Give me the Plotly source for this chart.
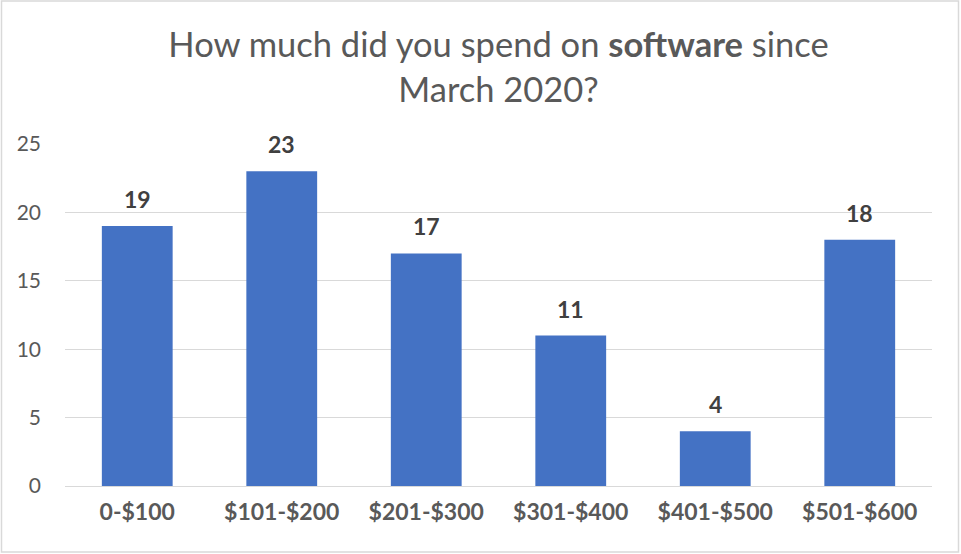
import plotly.graph_objects as go

categories = ["0-$100", "$101-$200", "$201-$300", "$301-$400", "$401-$500", "$501-$600"]
values = [19, 23, 17, 11, 4, 18]
y_ticks = [0, 5, 10, 15, 20, 25]

W, H = 961, 554
L, R, T, B = 65, 29, 144, 68
FONT = "Lato, 'Open Sans', sans-serif"

fig = go.Figure(go.Bar(
    x=categories, y=values,
    marker=dict(color="#4472C4", line=dict(width=0)),
    width=0.49,
    hoverinfo="x+y",
))

for c, v in zip(categories, values):
    fig.add_annotation(
        x=c, y=v, text=str(v), showarrow=False,
        yanchor="bottom", yshift=11,
        font=dict(family=FONT, size=23, color="#404040", weight="bold"),
    )

pw, ph = W - L - R, H - T - B
x0 = (1.5 - L) / pw
x1 = (W - 2.5 - L) / pw
y0 = -(H - 2.0 - T - ph) / ph
y1 = 1 + (T - 1.0) / ph

fig.update_layout(
    width=W, height=H,
    margin=dict(l=L, r=R, t=T, b=B, autoexpand=False),
    paper_bgcolor="white", plot_bgcolor="white",
    title=dict(
        text="How much did you spend on <b>software</b> since<br>March 2020?",
        x=0.5, xanchor="center", xref="paper",
        y=1 - 57 / H, yanchor="middle", yref="container",
        font=dict(family=FONT, size=34.5, color="#595959"),
    ),
    showlegend=False,
    xaxis=dict(
        showgrid=False, showline=False, ticks="",
        tickfont=dict(family=FONT, size=23, color="#595959", weight="bold"),
        ticklabelstandoff=10,
    ),
    yaxis=dict(
        range=[0, 25], tickvals=y_ticks,
        showgrid=True, gridcolor="#D9D9D9", gridwidth=1.3,
        zeroline=True, zerolinecolor="#D9D9D9", zerolinewidth=1.3,
        showline=False, ticks="",
        tickfont=dict(family=FONT, size=21, color="#595959"),
        ticklabelstandoff=23,
    ),
    shapes=[dict(
        type="rect", xref="paper", yref="paper",
        x0=x0, x1=x1, y0=y0, y1=y1,
        line=dict(color="#D9D9D9", width=1.5), layer="below",
    )],
)

fig.write_html("out.html", config={"displayModeBar": False},
               post_script="document.body.style.margin='0';")
